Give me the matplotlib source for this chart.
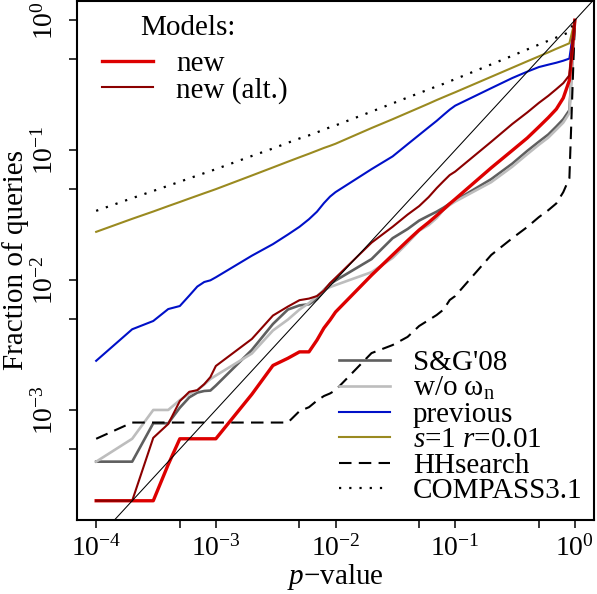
import matplotlib
matplotlib.use("Agg")
import matplotlib.pyplot as plt

plt.rcParams['font.family'] = ['Liberation Serif', 'DejaVu Serif']
plt.rcParams['mathtext.fontset'] = 'custom'
plt.rcParams['mathtext.rm'] = 'Liberation Serif'
plt.rcParams['mathtext.it'] = 'Liberation Serif:italic'

# p-value thresholds
pvals = [1e-4, 2e-4, 3e-4, 4e-4, 5e-4, 6e-4, 7e-4, 8e-4, 9e-4,
         1e-3, 2e-3, 3e-3, 4e-3, 5e-3, 6e-3, 7e-3, 8e-3, 9e-3,
         1e-2, 2e-2, 3e-2, 4e-2, 5e-2, 6e-2, 7e-2, 8e-2, 9e-2,
         0.1, 0.2, 0.3, 0.4, 0.5, 0.6, 0.7, 0.8, 0.9, 1.0]

# fraction of queries for each method
new = [2.0e-4, 2.0e-4, 2.0e-4, 3.8e-4, 6.0e-4, 6.0e-4, 6.0e-4, 6.0e-4, 6.0e-4,
       6.0e-4, 1.32e-3, 2.2e-3, 2.5e-3, 2.8e-3, 2.8e-3, 3.45e-3, 4.27e-3, 4.92e-3,
       5.67e-3, 0.0109, 0.0156, 0.0201, 0.0243, 0.0278, 0.0314, 0.035, 0.0387,
       0.042, 0.0731, 0.0995, 0.124, 0.151, 0.178, 0.207, 0.252, 0.345, 1.0]
new_alt = [2.0e-4, 2.0e-4, 6.1e-4, 7.8e-4, 1.17e-3, 1.38e-3, 1.42e-3, 1.58e-3, 1.79e-3,
           2.18e-3, 3.52e-3, 5.33e-3, 6.25e-3, 7.0e-3, 7.2e-3, 7.53e-3, 8.3e-3, 9.48e-3,
           0.0104, 0.0194, 0.0257, 0.0319, 0.0371, 0.0435, 0.051, 0.0578, 0.0643,
           0.0684, 0.116, 0.159, 0.195, 0.231, 0.262, 0.295, 0.328, 0.377, 1.0]
sg08 = [4.0e-4, 4.0e-4, 7.9e-4, 7.9e-4, 1.04e-3, 1.25e-3, 1.36e-3, 1.40e-3, 1.41e-3,
        1.54e-3, 2.9e-3, 4.59e-3, 5.93e-3, 6.38e-3, 6.51e-3, 7.14e-3, 8.38e-3, 9.31e-3,
        9.91e-3, 0.0145, 0.021, 0.0247, 0.0287, 0.0313, 0.0336, 0.0361, 0.0388,
        0.0409, 0.0598, 0.0787, 0.0986, 0.116, 0.132, 0.152, 0.173, 0.203, 1.0]
wo_omega = [4.0e-4, 6.0e-4, 1.0e-3, 1.0e-3, 1.19e-3, 1.33e-3, 1.42e-3, 1.57e-3, 1.73e-3,
            1.84e-3, 2.72e-3, 4.09e-3, 4.96e-3, 5.93e-3, 6.65e-3, 7.53e-3, 8.38e-3, 8.83e-3,
            9.15e-3, 0.0115, 0.0148, 0.0193, 0.024, 0.0265, 0.030, 0.0348, 0.0378,
            0.0402, 0.0567, 0.0746, 0.0931, 0.110, 0.125, 0.144, 0.163, 0.193, 1.0]
previous = [0.00239, 0.00418, 0.00484, 0.00598, 0.00631, 0.00759, 0.00891, 0.00966, 0.00995,
            0.0105, 0.0154, 0.0189, 0.0224, 0.0257, 0.0294, 0.0336, 0.0391, 0.0439,
            0.0475, 0.0714, 0.0895, 0.111, 0.131, 0.150, 0.168, 0.187, 0.205,
            0.220, 0.300, 0.359, 0.402, 0.436, 0.455, 0.471, 0.488, 0.507, 1.0]
s1_r001 = [0.0235, 0.0296, 0.0337, 0.0371, 0.0399, 0.0424, 0.0446, 0.0466, 0.0484,
           0.0501, 0.0638, 0.0736, 0.0815, 0.0881, 0.0938, 0.0991, 0.104, 0.108,
           0.112, 0.148, 0.173, 0.194, 0.212, 0.228, 0.243, 0.256, 0.268,
           0.279, 0.367, 0.431, 0.483, 0.527, 0.566, 0.603, 0.635, 0.665, 1.0]
hhsearch = [6.0e-4, 8.0e-4, 8.0e-4, 8.0e-4, 8.0e-4, 8.0e-4, 8.0e-4, 8.0e-4, 8.0e-4,
            8.0e-4, 8.0e-4, 8.0e-4, 8.0e-4, 9.8e-4, 1.05e-3, 1.18e-3, 1.28e-3, 1.34e-3,
            1.42e-3, 2.74e-3, 3.16e-3, 3.65e-3, 4.43e-3, 4.92e-3, 5.38e-3, 5.93e-3, 7.02e-3,
            7.53e-3, 0.0156, 0.021, 0.0256, 0.0305, 0.0345, 0.0389, 0.0475, 0.0609, 1.0]
compass = [0.0341, 0.0427, 0.0485, 0.0532, 0.0571, 0.0607, 0.0637, 0.0665, 0.0690,
           0.0714, 0.0902, 0.103, 0.114, 0.123, 0.130, 0.137, 0.144, 0.150,
           0.155, 0.198, 0.229, 0.254, 0.275, 0.293, 0.310, 0.324, 0.339,
           0.352, 0.457, 0.533, 0.596, 0.649, 0.695, 0.736, 0.774, 0.809, 1.0]

major_ticks = [1e-4, 1e-3, 1e-2, 1e-1, 1.0]
minor_ticks = [5e-4, 5e-3, 5e-2, 5e-1]
tick_labels = [r'$10^{-4}$', r'$10^{-3}$', r'$10^{-2}$', r'$10^{-1}$', r'$10^{0}$']
ytick_vals = [1e-3, 1e-2, 1e-1, 1.0]
ytick_minor = [5e-4, 5e-3, 5e-2, 5e-1]
ytick_labels = [r'$10^{-3}$', r'$10^{-2}$', r'$10^{-1}$', r'$10^{0}$']

FS = 20
LFS = 21

fig = plt.figure(figsize=(5.97, 5.94), dpi=100)
ax = fig.add_axes([0.129, 0.1246, 0.866, 0.8737])

l_sg, = ax.plot(pvals, sg08, color='#5f5f5f', lw=1.9)
l_wo, = ax.plot(pvals, wo_omega, color='#bdbdbd', lw=1.9)
l_prev, = ax.plot(pvals, previous, color='#0010c8', lw=1.5)
l_s1, = ax.plot(pvals, s1_r001, color='#9a8a20', lw=1.5)
l_hh, = ax.plot(pvals, hhsearch, color='black', lw=1.5, ls=(0, (6, 3.5)))
l_co, = ax.plot(pvals, compass, color='black', lw=1.6, ls=(0, (1, 3.6)))
l_new, = ax.plot(pvals, new, color='#dd0000', lw=2.4)
l_alt, = ax.plot(pvals, new_alt, color='#8b0000', lw=1.5)
ax.axline((1e-4, 1e-4), (1.0, 1.0), color='black', lw=0.75)

ax.set_xscale('log')
ax.set_yscale('log')
ax.set_xlim(10 ** -4.16, 10 ** 0.16)
ax.set_ylim(10 ** -3.847, 10 ** 0.148)

ax.set_xticks(major_ticks)
ax.set_xticklabels(tick_labels)
ax.set_xticks(minor_ticks, minor=True)
ax.set_xticklabels([], minor=True)
ax.set_yticks(ytick_vals)
ax.set_yticklabels(ytick_labels, rotation=90, va='center')
ax.set_yticks(ytick_minor, minor=True)
ax.set_yticklabels([], minor=True)
ax.tick_params(which='both', direction='out', length=6, width=1.1, labelsize=FS)
ax.tick_params(axis='x', pad=5)
ax.tick_params(axis='y', pad=7)
for s in ax.spines.values():
    s.set_linewidth(1.5)

ax.set_xlabel(r'$p$' + '\u2212value', fontsize=FS + 1)
ax.set_ylabel('Fraction of queries', fontsize=FS + 1)
ax.xaxis.set_label_coords(0.5, -0.11)
ax.xaxis.label.set_va('center')
ax.yaxis.set_label_coords(-0.118, 0.5)
ax.yaxis.label.set_va('center')

# legend for the model variants, with its heading as a separate text
ax.text(0.215, 0.948, 'Models:', transform=ax.transAxes, fontsize=LFS,
        ha='center', va='center')
leg1 = ax.legend([l_new, l_alt], ['new', 'new (alt.)'],
                 loc='upper left', bbox_to_anchor=(0.048, 0.905), frameon=False,
                 fontsize=LFS, borderpad=0, borderaxespad=0,
                 handlelength=1.75, handletextpad=0.8, labelspacing=0.0)
ax.add_artist(leg1)
ax.legend([l_sg, l_wo, l_prev, l_s1, l_hh, l_co],
          ["S&G'08", 'w/o \u03c9$_\\mathrm{n}$', 'previous', r'$s$=1 $r$=0.01',
           'HHsearch', 'COMPASS3.1'],
          loc='lower right', bbox_to_anchor=(0.978, 0.03), frameon=False,
          fontsize=LFS, borderpad=0, borderaxespad=0,
          handlelength=1.75, handletextpad=0.8, labelspacing=-0.03)

fig.savefig('out.png', dpi=100)
